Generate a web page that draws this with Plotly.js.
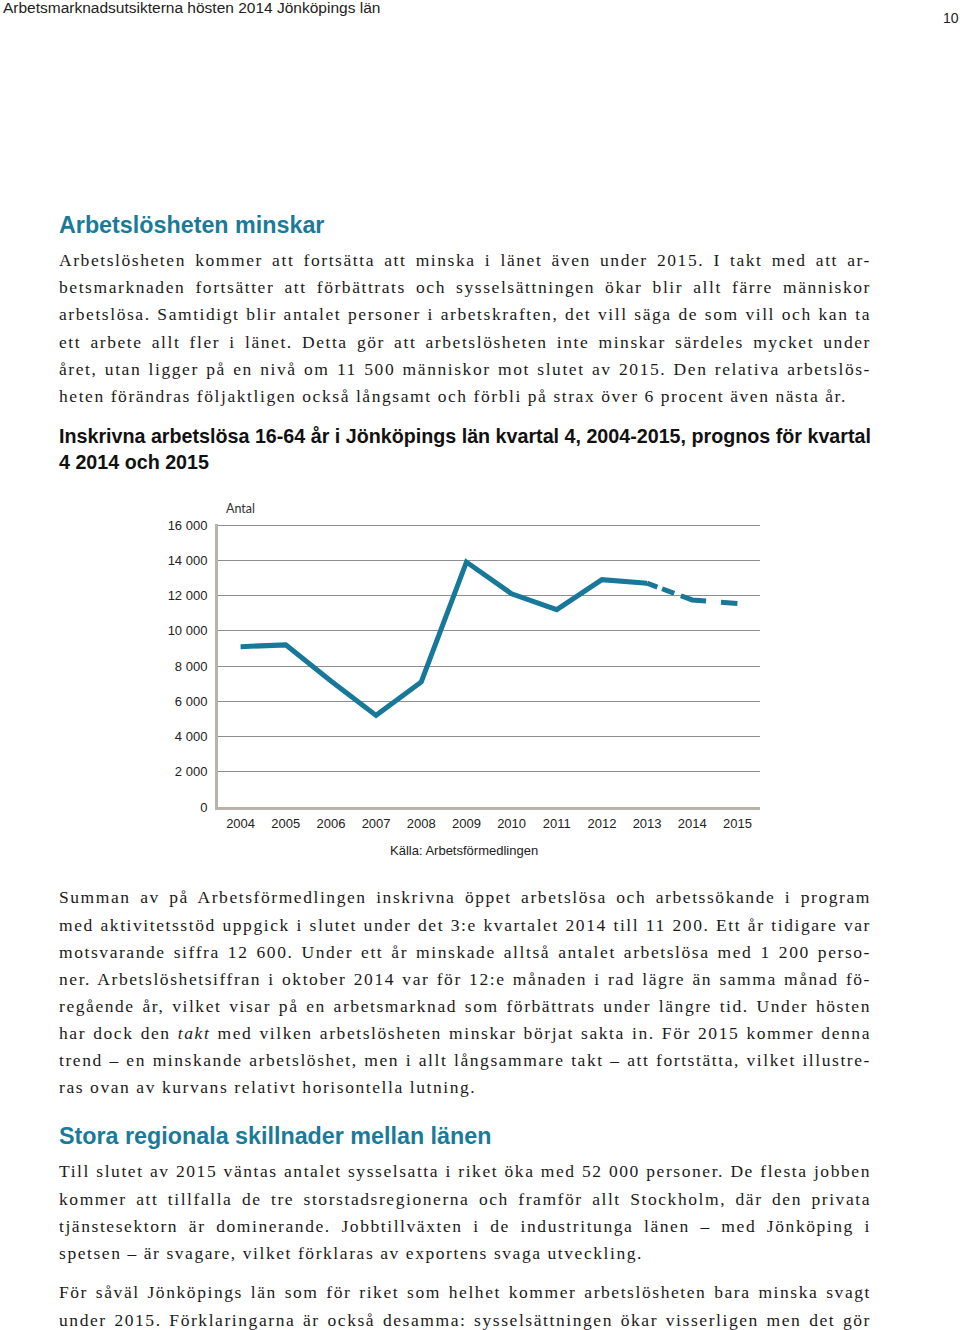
<!DOCTYPE html>
<html>
<head>
<meta charset="utf-8">
<script src="https://cdn.plot.ly/plotly-3.0.1.min.js"></script>
<style>
  html, body { margin: 0; padding: 0; background: #ffffff; }
  body { width: 960px; height: 1330px; position: relative; overflow: hidden; }
  .hdr { position: absolute; font-family: "Liberation Sans", Arial, sans-serif; color: #222; white-space: nowrap; }
  .h { position: absolute; left: 59px; font-family: "Liberation Sans", Arial, sans-serif; font-weight: bold; font-size: 23.3px; color: #1a7a9a; white-space: nowrap; line-height: 30px; }
  .para { position: absolute; left: 59px; width: 812px; font-family: "Liberation Serif", "Times New Roman", serif; font-size: 17.5px; color: #1a1a1a; }
  .ln { display: block; width: 812px; text-align: justify; text-align-last: justify; letter-spacing: 1.57px; }
  .ln.last { text-align: left; text-align-last: left; }
  #chart { position: absolute; left: 0; top: 420px; width: 960px; height: 450px; }
</style>
</head>
<body>
<div class="hdr" style="left:3px; top:-1px; font-size:15.5px; line-height:18px;">Arbetsmarknadsutsikterna hösten 2014 Jönköpings län</div>
<div class="hdr" style="left:943px; top:9px; font-size:14px; line-height:18px;">10</div>

<div class="h" style="top:210px;">Arbetslösheten minskar</div>

<div class="para" id="p1" style="top:247px; line-height:27.2px;">
<span class="ln">Arbetslösheten kommer att fortsätta att minska i länet även under 2015. I takt med att ar-</span>
<span class="ln">betsmarknaden fortsätter att förbättrats och sysselsättningen ökar blir allt färre människor</span>
<span class="ln">arbetslösa. Samtidigt blir antalet personer i arbetskraften, det vill säga de som vill och kan ta</span>
<span class="ln">ett arbete allt fler i länet. Detta gör att arbetslösheten inte minskar särdeles mycket under</span>
<span class="ln">året, utan ligger på en nivå om 11 500 människor mot slutet av 2015. Den relativa arbetslös-</span>
<span class="ln last">heten förändras följaktligen också långsamt och förbli på strax över 6 procent även nästa år.</span>
</div>

<div id="chart"></div>

<div class="para" id="p2" style="top:884.4px; line-height:27.14px;">
<span class="ln">Summan av på Arbetsförmedlingen inskrivna öppet arbetslösa och arbetssökande i program</span>
<span class="ln">med aktivitetsstöd uppgick i slutet under det 3:e kvartalet 2014 till 11 200. Ett år tidigare var</span>
<span class="ln">motsvarande siffra 12 600. Under ett år minskade alltså antalet arbetslösa med 1 200 perso-</span>
<span class="ln">ner. Arbetslöshetsiffran i oktober 2014 var för 12:e månaden i rad lägre än samma månad fö-</span>
<span class="ln">regående år, vilket visar på en arbetsmarknad som förbättrats under längre tid. Under hösten</span>
<span class="ln">har dock den <i>takt</i> med vilken arbetslösheten minskar börjat sakta in. För 2015 kommer denna</span>
<span class="ln">trend – en minskande arbetslöshet, men i allt långsammare takt – att fortstätta, vilket illustre-</span>
<span class="ln last">ras ovan av kurvans relativt horisontella lutning.</span>
</div>

<div class="h" style="top:1121px;">Stora regionala skillnader mellan länen</div>

<div class="para" id="p3" style="top:1158.3px; line-height:27.3px;">
<span class="ln">Till slutet av 2015 väntas antalet sysselsatta i riket öka med 52 000 personer. De flesta jobben</span>
<span class="ln">kommer att tillfalla de tre storstadsregionerna och framför allt Stockholm, där den privata</span>
<span class="ln">tjänstesektorn är dominerande. Jobbtillväxten i de industritunga länen – med Jönköping i</span>
<span class="ln last">spetsen – är svagare, vilket förklaras av exportens svaga utveckling.</span>
</div>

<div class="para" id="p4" style="top:1279.4px; line-height:27.2px;">
<span class="ln">För såväl Jönköpings län som för riket som helhet kommer arbetslösheten bara minska svagt</span>
<span class="ln">under 2015. Förklaringarna är också desamma: sysselsättningen ökar visserligen men det gör</span>
</div>

<script>
// ---- Chart data ----
const years = ['2004','2005','2006','2007','2008','2009','2010','2011','2012','2013','2014','2015'];
const registeredUnemployed = [9100, 9200, 7150, 5200, 7100, 13900, 12100, 11200, 12900, 12700, 11750, 11550];
const forecastFrom = '2013';
const yTickVals = [0, 2000, 4000, 6000, 8000, 10000, 12000, 14000, 16000];
const yTickText = ['0', '2 000', '4 000', '6 000', '8 000', '10 000', '12 000', '14 000', '16 000'];
const chartTitle = 'Inskrivna arbetslösa 16-64 år i Jönköpings län kvartal 4, 2004-2015, prognos för kvartal<br>4 2014 och 2015';
const unitLabel = 'Antal';
const sourceLabel = 'Källa: Arbetsförmedlingen';

// ---- Text line fitting (keeps justified lines on one line) ----
function fitLines() {
  document.querySelectorAll('.ln').forEach(function (el) {
    const probe = document.createElement('span');
    probe.style.whiteSpace = 'nowrap';
    probe.style.letterSpacing = getComputedStyle(el).letterSpacing;
    probe.innerHTML = el.innerHTML;
    el.parentNode.appendChild(probe);
    const w = probe.getBoundingClientRect().width;
    const n = el.textContent.length;
    probe.remove();
    const maxW = 808;
    if (w > maxW) {
      const ls = parseFloat(getComputedStyle(el).letterSpacing) || 0;
      el.style.letterSpacing = (ls - (w - maxW) / n) + 'px';
    }
  });
}
fitLines();

// ---- Chart ----
const fi = years.indexOf(forecastFrom);
const solidY = registeredUnemployed.map((v, i) => (i <= fi ? v : null));
const dashY = registeredUnemployed.map((v, i) => (i >= fi ? v : null));
const lineColor = '#17789a';

const traces = [
  { x: years, y: solidY, type: 'scatter', mode: 'lines', line: { color: lineColor, width: 5 }, hoverinfo: 'x+y', showlegend: false },
  { x: years, y: dashY, type: 'scatter', mode: 'lines', line: { color: lineColor, width: 5, dash: '11px,5px,13px,7px,26px,15px,17px' }, hoverinfo: 'x+y', showlegend: false }
];

const layout = {
  width: 960, height: 450,
  margin: { l: 218, r: 200, t: 104, b: 63, pad: 0 },
  paper_bgcolor: '#ffffff', plot_bgcolor: '#ffffff',
  font: { family: '"Liberation Sans", Arial, sans-serif', size: 13, color: '#222' },
  title: {
    text: chartTitle,
    x: 59 / 960, xref: 'container', xanchor: 'left',
    y: 1 - 23 / 450, yref: 'container', yanchor: 'top',
    font: { family: '"Liberation Sans", Arial, sans-serif', size: 19.7, weight: 700, color: '#111' }
  },
  xaxis: {
    type: 'category', range: [-0.5, 11.5], fixedrange: true,
    showgrid: false, zeroline: false,
    showline: true, linecolor: '#bab3aa', linewidth: 3,
    ticks: '', tickfont: { size: 13, color: '#222' }, ticklabelstandoff: 2
  },
  yaxis: {
    range: [0, 16060], fixedrange: true,
    tickmode: 'array', tickvals: yTickVals, ticktext: yTickText,
    showgrid: true, gridcolor: '#8e8e8e', gridwidth: 1,
    zeroline: false,
    showline: true, linecolor: '#bab3aa', linewidth: 3,
    ticks: '', tickfont: { size: 13, color: '#222' }, ticklabelstandoff: 5
  },
  annotations: [
    { text: unitLabel, xref: 'paper', yref: 'paper', x: 6 / 542, y: (807 - 508) / 283, xanchor: 'left', yanchor: 'middle', showarrow: false,
      font: { family: 'Lato, "Open Sans", sans-serif', size: 12.5, color: '#333' } },
    { text: sourceLabel, xref: 'paper', yref: 'paper', x: (464 - 218) / 542, y: (807 - 850) / 283, xanchor: 'center', yanchor: 'middle', showarrow: false,
      font: { family: '"Liberation Sans", Arial, sans-serif', size: 13, color: '#222' } }
  ]
};

Plotly.newPlot('chart', traces, layout, { displayModeBar: false, responsive: false });
</script>
</body>
</html>
